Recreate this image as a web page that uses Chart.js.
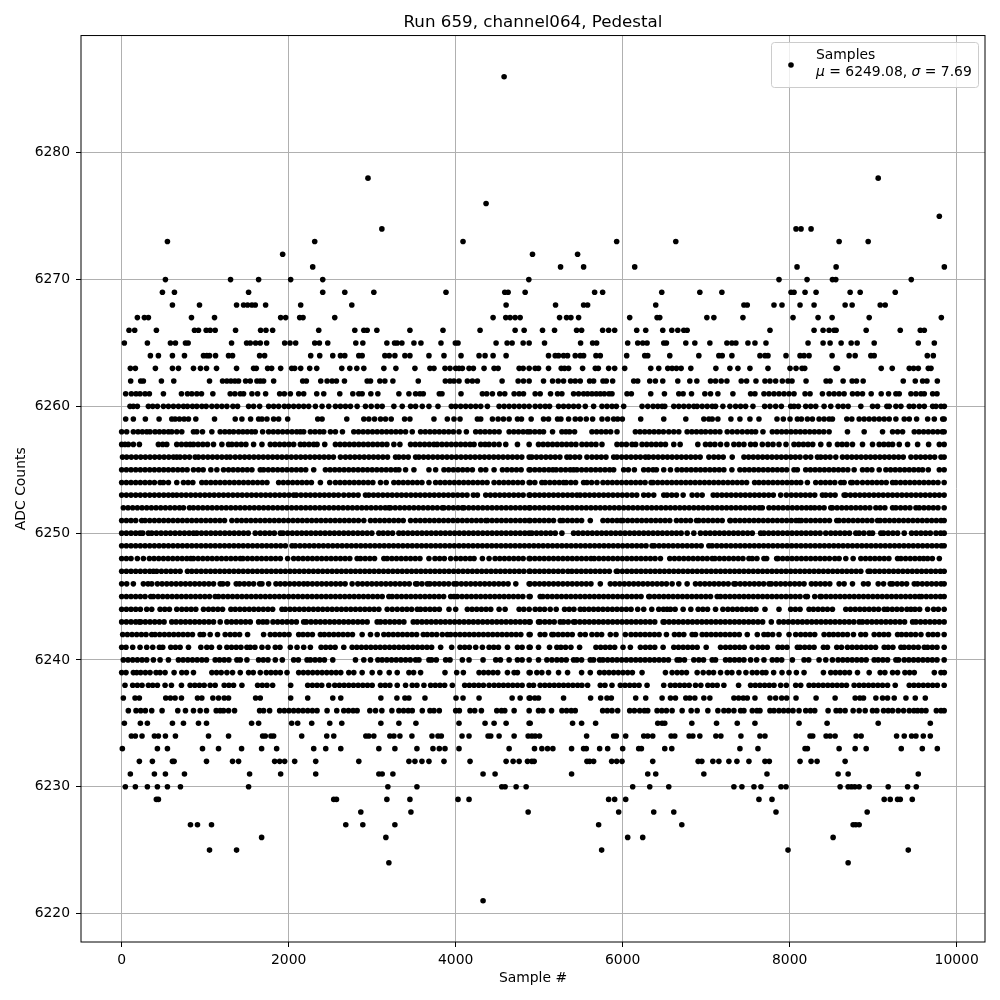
<!DOCTYPE html>
<html>
<head>
<meta charset="utf-8">
<style>html,body{margin:0;padding:0;background:#fff}canvas{display:block}</style>
<script src="https://cdn.jsdelivr.net/npm/chart.js@4"></script>
</head>
<body>
<canvas id="c" width="1000" height="1000"></canvas>
<script>
const xTickValues = [0, 2000, 4000, 6000, 8000, 10000];
const yTickValues = [6220, 6230, 6240, 6250, 6260, 6270, 6280];

// sample numbers, one list per ADC level
const row6286 = [4580];
const row6278 = [2950, 9060];
const row6276 = [4364];
const row6275 = [9792];
const row6274 = [3116, 8076, 8136, 8256];
const row6273 = [548, 2312, 4088, 5928, 6636, 8592, 8940];
const row6272 = [1928, 4920, 5460];
const row6271 = [2288, 5256, 5532, 6144, 8088, 8556, 9852];
const row6270 = [524, 1304, 1640, 2024, 2408, 4876, 7872, 8208, 8512, 8552, 9456];
const row6269 = [488, 632, 1520, 2408, 2672, 3020, 3884, 4588, 4628, 4832, 5664, 5760, 6468, 6924, 7188, 8016, 8052, 8184, 8316, 8724, 8844, 9264];
const row6268 = [608, 932, 1376, 1460, 1508, 1560, 1600, 1724, 2144, 2756, 4604, 5196, 5532, 5580, 6396, 7452, 7492, 7812, 7908, 8124, 8292, 8664, 8748, 9084, 9144];
const row6267 = [188, 272, 320, 836, 1112, 1904, 1964, 2132, 2172, 2552, 4448, 4600, 4652, 4712, 4772, 5244, 5328, 5380, 5472, 6084, 6412, 6444, 7008, 7092, 7440, 8040, 8340, 8508, 8952, 9816];
const row6266 = [88, 156, 416, 872, 920, 1012, 1060, 1120, 1364, 1664, 1728, 1808, 2360, 2792, 2900, 2940, 3056, 3452, 3848, 4292, 4712, 4820, 5040, 5184, 5448, 5508, 5760, 5832, 5904, 6168, 6276, 6480, 6588, 6660, 6732, 6772, 7764, 8292, 8400, 8472, 8532, 8556, 8916, 9324, 9564, 9612];
const row6265 = [32, 308, 584, 644, 764, 796, 1316, 1496, 1540, 1604, 1660, 1736, 1952, 2016, 2084, 2312, 2368, 2468, 2804, 2888, 3176, 3268, 3300, 3356, 3500, 3584, 3824, 3996, 4028, 4484, 4616, 4676, 4808, 4880, 5064, 5496, 5640, 5688, 6060, 6180, 6240, 6292, 6492, 6524, 6756, 6864, 7044, 7248, 7308, 7356, 7500, 7584, 7716, 8220, 8400, 8484, 8616, 8736, 8808, 9012, 9540, 9732];
const row6264 = [344, 440, 608, 752, 980, 1020, 1052, 1124, 1280, 1328, 1652, 1712, 2264, 2372, 2528, 2620, 2672, 2840, 2880, 3152, 3204, 3272, 3392, 3452, 3680, 3860, 4064, 4280, 4352, 4448, 4604, 5112, 5192, 5232, 5292, 5340, 5432, 5492, 5532, 5680, 5732, 6048, 6264, 6300, 6564, 6912, 7152, 7192, 7308, 7644, 7704, 7740, 7956, 8124, 8172, 8232, 8508, 8712, 8784, 8972, 9012, 9648, 9720];
const row6263 = [104, 164, 404, 608, 680, 860, 944, 1016, 1136, 1376, 1580, 1612, 1748, 1796, 1904, 2036, 2072, 2144, 2252, 2336, 2636, 2732, 2816, 2900, 3140, 3284, 3512, 3692, 3740, 3872, 3932, 4000, 4040, 4080, 4160, 4212, 4340, 4460, 4508, 4760, 4808, 4880, 4952, 4992, 5112, 5264, 5304, 5352, 5520, 5672, 5708, 5832, 5904, 6024, 6336, 6432, 6540, 6592, 6644, 6700, 6816, 7116, 7284, 7380, 7524, 7740, 8004, 8076, 8148, 8180, 8556, 8572, 9096, 9228, 9432, 9484, 9540, 9660, 9692];
const row6262 = [108, 228, 260, 476, 624, 1052, 1208, 1260, 1308, 1356, 1400, 1484, 1540, 1620, 1660, 1700, 1820, 2168, 2212, 2384, 2460, 2520, 2572, 2668, 2940, 2980, 3092, 3152, 3248, 3552, 3876, 3932, 3980, 4040, 4140, 4200, 4260, 4556, 4748, 4812, 4880, 5052, 5160, 5228, 5292, 5376, 5432, 5492, 5604, 5652, 5764, 5804, 5880, 6132, 6180, 6324, 6392, 6480, 6660, 6804, 6888, 7052, 7112, 7180, 7248, 7420, 7484, 7596, 7704, 7764, 7832, 7912, 7980, 8028, 8196, 8436, 8484, 8640, 8748, 8800, 8880, 9360, 9504, 9592, 9644, 9768];
const row6261 = [48, 116, 172, 220, 280, 332, 500, 716, 788, 840, 900, 956, 1092, 1300, 1356, 1420, 1460, 1560, 1628, 1724, 1892, 1948, 2020, 2120, 2180, 2336, 2420, 2612, 2768, 2840, 2880, 2984, 3068, 3320, 3440, 3520, 3572, 3612, 3804, 3836, 4064, 4320, 4372, 4440, 4528, 4588, 4700, 4760, 4812, 4952, 5012, 5136, 5220, 5272, 5412, 5472, 5532, 5580, 5632, 5684, 5732, 5780, 5836, 5872, 6052, 6104, 6336, 6500, 6672, 6724, 6824, 6984, 7052, 7140, 7320, 7532, 7584, 7692, 7752, 7812, 7872, 7932, 7992, 8052, 8184, 8244, 8392, 8472, 8532, 8592, 8652, 8752, 8812, 8872, 8976, 9096, 9184, 9272, 9312, 9452, 9512, 9572, 9612, 9712, 9764];
const row6260 = [100, 140, 188, 320, 372, 428, 500, 560, 620, 680, 740, 788, 848, 900, 960, 1012, 1080, 1140, 1200, 1260, 1332, 1388, 1520, 1580, 1652, 1760, 1820, 1880, 1948, 2000, 2060, 2120, 2180, 2240, 2320, 2400, 2480, 2560, 2620, 2680, 2740, 2820, 2920, 2988, 3060, 3120, 3260, 3360, 3460, 3520, 3600, 3680, 3788, 3948, 4000, 4060, 4120, 4180, 4240, 4300, 4380, 4520, 4580, 4640, 4700, 4760, 4820, 4880, 4952, 5012, 5072, 5124, 5232, 5292, 5352, 5412, 5472, 5552, 5652, 5752, 5812, 5872, 5924, 6012, 6232, 6300, 6364, 6420, 6472, 6504, 6612, 6672, 6732, 6792, 6852, 6892, 6952, 7012, 7072, 7112, 7200, 7284, 7352, 7412, 7472, 7560, 7700, 7764, 7832, 7900, 8012, 8052, 8104, 8192, 8252, 8312, 8412, 8492, 8580, 8640, 8700, 8852, 8992, 9052, 9164, 9192, 9272, 9332, 9432, 9484, 9552, 9612, 9712, 9752, 9812, 9852];
const row6259 = [48, 140, 284, 448, 600, 640, 692, 748, 800, 888, 1112, 1360, 1440, 1544, 1640, 1680, 1740, 1820, 1880, 1988, 2348, 2400, 2696, 2900, 2960, 3028, 3100, 3160, 3228, 3388, 3452, 3740, 3900, 3980, 4052, 4260, 4300, 4440, 4508, 4572, 4640, 4740, 4788, 4904, 5052, 5112, 5220, 5260, 5352, 5432, 5492, 5564, 5640, 5752, 5820, 5892, 5940, 5996, 6216, 6492, 6756, 6972, 7032, 7072, 7140, 7296, 7404, 7524, 7632, 7848, 7924, 8004, 8092, 8140, 8212, 8272, 8352, 8412, 8472, 8512, 8684, 8744, 8832, 8892, 8952, 9012, 9072, 9132, 9192, 9272, 9372, 9432, 9520, 9652, 9732, 9832, 9850];
const row6258 = [0, 60, 140, 196, 248, 300, 340, 400, 452, 506, 560, 600, 660, 720, 860, 900, 968, 1080, 1180, 1236, 1290, 1340, 1400, 1452, 1504, 1556, 1600, 1688, 1760, 1816, 1872, 1928, 1984, 2040, 2096, 2140, 2180, 2260, 2316, 2372, 2420, 2500, 2560, 2644, 2780, 2836, 2892, 2948, 3004, 3060, 3116, 3172, 3228, 3284, 3340, 3400, 3480, 3580, 3636, 3692, 3748, 3804, 3860, 3916, 3972, 4040, 4128, 4240, 4296, 4352, 4408, 4464, 4520, 4640, 4696, 4752, 4808, 4860, 4892, 4948, 5004, 5052, 5160, 5272, 5320, 5364, 5424, 5632, 5688, 5744, 5800, 5856, 5932, 6152, 6208, 6264, 6320, 6376, 6432, 6488, 6552, 6612, 6672, 6772, 6828, 6884, 6940, 6992, 7052, 7108, 7164, 7252, 7312, 7372, 7432, 7492, 7544, 7592, 7680, 7792, 7848, 7904, 7960, 8016, 8072, 8128, 8184, 8240, 8296, 8352, 8408, 8472, 8692, 8892, 9112, 9232, 9292, 9352, 9492, 9548, 9604, 9660, 9716, 9772, 9828, 9850];
const row6257 = [0, 40, 80, 140, 212, 440, 492, 540, 660, 716, 772, 820, 860, 916, 972, 1028, 1100, 1200, 1280, 1320, 1376, 1432, 1488, 1580, 1680, 1780, 1836, 1892, 1948, 2004, 2060, 2140, 2188, 2244, 2300, 2340, 2432, 2560, 2616, 2672, 2728, 2784, 2840, 2896, 2952, 3008, 3064, 3120, 3176, 3260, 3332, 3460, 3516, 3572, 3628, 3684, 3740, 3780, 3836, 3892, 3948, 4004, 4060, 4116, 4172, 4220, 4300, 4352, 4400, 4460, 4520, 4600, 4740, 4880, 4992, 5048, 5104, 5160, 5216, 5272, 5328, 5384, 5440, 5512, 5568, 5624, 5680, 5752, 5932, 5988, 6044, 6112, 6156, 6232, 6288, 6344, 6400, 6456, 6512, 6612, 6688, 6900, 6992, 7048, 7104, 7172, 7248, 7332, 7392, 7452, 7532, 7588, 7672, 7740, 7800, 7872, 7956, 8052, 8108, 8164, 8220, 8276, 8372, 8472, 8572, 8628, 8684, 8752, 8872, 8992, 9072, 9128, 9184, 9232, 9312, 9412, 9532, 9664, 9792, 9850];
const row6256 = [10, 60, 116, 172, 228, 284, 340, 396, 452, 508, 564, 620, 660, 700, 756, 812, 880, 920, 976, 1032, 1088, 1144, 1200, 1256, 1300, 1360, 1416, 1472, 1528, 1584, 1640, 1696, 1752, 1808, 1864, 1920, 1976, 2032, 2088, 2144, 2200, 2256, 2312, 2368, 2424, 2480, 2536, 2620, 2680, 2736, 2792, 2848, 2904, 2960, 3016, 3072, 3128, 3184, 3280, 3320, 3376, 3432, 3520, 3560, 3616, 3672, 3728, 3784, 3840, 3896, 3952, 4008, 4064, 4120, 4176, 4232, 4288, 4344, 4400, 4456, 4512, 4568, 4624, 4680, 4736, 4792, 4880, 4912, 4968, 5024, 5080, 5136, 5192, 5248, 5332, 5372, 5428, 5484, 5572, 5632, 5688, 5744, 5800, 5892, 5932, 5988, 6044, 6100, 6156, 6212, 6272, 6312, 6368, 6424, 6480, 6536, 6592, 6648, 6704, 6760, 6816, 6872, 6928, 7032, 7092, 7148, 7204, 7312, 7452, 7508, 7564, 7620, 7676, 7732, 7788, 7844, 7900, 7956, 8012, 8068, 8124, 8192, 8252, 8332, 8372, 8428, 8484, 8552, 8632, 8688, 8744, 8800, 8856, 8912, 8968, 9024, 9080, 9136, 9192, 9248, 9304, 9360, 9452, 9512, 9568, 9624, 9680, 9736, 9812, 9850];
const row6255 = [0, 56, 112, 168, 224, 280, 336, 392, 448, 504, 560, 616, 672, 728, 784, 860, 920, 976, 1068, 1140, 1220, 1280, 1336, 1392, 1448, 1504, 1560, 1660, 1700, 1756, 1812, 1868, 1924, 1980, 2036, 2092, 2148, 2204, 2300, 2440, 2496, 2552, 2608, 2664, 2720, 2776, 2832, 2888, 2944, 3000, 3056, 3112, 3168, 3224, 3280, 3320, 3400, 3500, 3680, 3760, 3860, 3916, 3972, 4028, 4084, 4140, 4200, 4300, 4360, 4460, 4560, 4616, 4672, 4728, 4784, 4880, 4892, 4948, 5004, 5060, 5116, 5164, 5204, 5260, 5316, 5372, 5412, 5452, 5508, 5564, 5620, 5676, 5732, 5788, 5844, 5892, 6012, 6068, 6140, 6252, 6308, 6364, 6404, 6492, 6572, 6652, 6708, 6764, 6820, 6876, 6932, 6988, 7044, 7100, 7156, 7212, 7308, 7404, 7460, 7516, 7572, 7628, 7684, 7740, 7796, 7852, 7908, 7964, 8052, 8092, 8192, 8248, 8304, 8360, 8416, 8472, 8528, 8584, 8640, 8696, 8772, 8872, 8928, 8984, 9072, 9152, 9208, 9264, 9320, 9376, 9432, 9488, 9544, 9592, 9660, 9792, 9850];
const row6254 = [0, 56, 112, 168, 224, 280, 336, 392, 460, 500, 560, 660, 740, 796, 852, 960, 1012, 1068, 1124, 1180, 1236, 1292, 1348, 1404, 1460, 1516, 1572, 1628, 1684, 1740, 1880, 1936, 1992, 2048, 2104, 2160, 2216, 2272, 2380, 2492, 2560, 2616, 2672, 2728, 2784, 2840, 2896, 2952, 3008, 3100, 3168, 3260, 3316, 3372, 3428, 3484, 3540, 3596, 3680, 3760, 3816, 3872, 3928, 3984, 4040, 4096, 4152, 4208, 4264, 4320, 4376, 4460, 4520, 4576, 4632, 4688, 4744, 4800, 4880, 4892, 4948, 5032, 5072, 5128, 5184, 5240, 5292, 5324, 5380, 5436, 5532, 5572, 5628, 5692, 5764, 5820, 5876, 5932, 5988, 6044, 6100, 6156, 6212, 6268, 6340, 6364, 6420, 6476, 6532, 6588, 6644, 6700, 6756, 6812, 6868, 6924, 6980, 7036, 7092, 7148, 7204, 7260, 7316, 7372, 7428, 7484, 7580, 7632, 7688, 7744, 7800, 7856, 7912, 7968, 8024, 8080, 8132, 8212, 8312, 8372, 8428, 8484, 8540, 8612, 8652, 8732, 8752, 8808, 8872, 8932, 8988, 9044, 9100, 9156, 9232, 9272, 9328, 9384, 9440, 9496, 9552, 9608, 9664, 9720, 9776, 9850];
const row6253 = [0, 56, 112, 168, 224, 280, 336, 392, 448, 504, 560, 612, 660, 716, 772, 828, 884, 940, 996, 1052, 1108, 1164, 1220, 1276, 1332, 1388, 1444, 1500, 1556, 1612, 1668, 1724, 1780, 1836, 1892, 1948, 2004, 2060, 2092, 2148, 2204, 2260, 2316, 2372, 2428, 2484, 2540, 2596, 2660, 2720, 2776, 2832, 2920, 2960, 3016, 3072, 3128, 3184, 3240, 3296, 3352, 3408, 3464, 3520, 3576, 3632, 3688, 3744, 3800, 3856, 3912, 3968, 4024, 4080, 4136, 4212, 4260, 4360, 4416, 4472, 4528, 4584, 4640, 4696, 4752, 4808, 4880, 4892, 4948, 5004, 5060, 5116, 5172, 5228, 5284, 5340, 5396, 5452, 5492, 5548, 5604, 5660, 5716, 5772, 5828, 5884, 5940, 5996, 6052, 6112, 6168, 6252, 6308, 6372, 6492, 6532, 6588, 6644, 6724, 6832, 6892, 6952, 7084, 7132, 7188, 7244, 7300, 7356, 7412, 7468, 7524, 7580, 7636, 7692, 7748, 7804, 7892, 7960, 8020, 8076, 8132, 8188, 8244, 8300, 8392, 8432, 8488, 8544, 8652, 8672, 8728, 8784, 8840, 8896, 8952, 9008, 9064, 9120, 9176, 9232, 9288, 9344, 9400, 9456, 9512, 9568, 9624, 9680, 9736, 9792, 9850];
const row6252 = [20, 76, 132, 188, 244, 300, 356, 412, 468, 524, 580, 636, 692, 740, 812, 860, 916, 972, 1028, 1084, 1140, 1196, 1252, 1308, 1364, 1420, 1476, 1532, 1588, 1644, 1700, 1756, 1812, 1868, 1924, 1980, 2036, 2092, 2148, 2204, 2260, 2316, 2372, 2428, 2484, 2540, 2596, 2652, 2708, 2764, 2820, 2876, 2932, 2988, 3044, 3100, 3156, 3200, 3220, 3276, 3332, 3388, 3444, 3500, 3556, 3612, 3668, 3724, 3780, 3840, 3860, 3916, 3972, 4028, 4080, 4100, 4156, 4212, 4268, 4324, 4380, 4436, 4492, 4548, 4604, 4660, 4716, 4772, 4828, 4880, 4892, 4948, 5004, 5060, 5116, 5172, 5228, 5284, 5340, 5396, 5452, 5508, 5564, 5620, 5676, 5732, 5788, 5844, 5900, 5956, 6012, 6068, 6124, 6180, 6236, 6292, 6348, 6404, 6460, 6516, 6572, 6628, 6684, 6740, 6796, 6852, 6908, 6964, 7020, 7076, 7132, 7188, 7244, 7300, 7356, 7412, 7468, 7524, 7580, 7636, 7672, 7752, 7808, 7864, 7920, 7976, 8032, 8088, 8144, 8200, 8252, 8300, 8356, 8412, 8492, 8512, 8568, 8624, 8680, 8736, 8792, 8848, 8904, 8960, 9032, 9084, 9140, 9232, 9272, 9328, 9384, 9440, 9512, 9552, 9608, 9664, 9720, 9776, 9850];
const row6251 = [0, 56, 112, 168, 240, 280, 336, 392, 448, 504, 560, 616, 672, 728, 784, 840, 896, 952, 1008, 1064, 1120, 1176, 1232, 1320, 1380, 1436, 1492, 1548, 1604, 1660, 1716, 1772, 1828, 1884, 1940, 1996, 2052, 2108, 2164, 2220, 2276, 2332, 2388, 2444, 2500, 2556, 2612, 2668, 2724, 2780, 2836, 2900, 2980, 3036, 3092, 3148, 3204, 3260, 3316, 3372, 3460, 3520, 3576, 3632, 3688, 3744, 3800, 3856, 3912, 3968, 4024, 4080, 4136, 4192, 4248, 4304, 4360, 4380, 4436, 4492, 4548, 4604, 4660, 4716, 4772, 4828, 4880, 4892, 4948, 5004, 5060, 5116, 5172, 5252, 5284, 5340, 5396, 5452, 5508, 5612, 5764, 5820, 5876, 5932, 5980, 6004, 6060, 6116, 6172, 6228, 6284, 6340, 6396, 6452, 6508, 6564, 6644, 6700, 6756, 6812, 6884, 6912, 6968, 7024, 7080, 7136, 7192, 7284, 7292, 7348, 7404, 7460, 7516, 7572, 7628, 7684, 7740, 7796, 7852, 7908, 7964, 8020, 8076, 8112, 8140, 8196, 8252, 8308, 8364, 8420, 8476, 8564, 8592, 8648, 8704, 8760, 8816, 8872, 8928, 8984, 9052, 9084, 9140, 9196, 9252, 9308, 9364, 9420, 9476, 9532, 9588, 9644, 9700, 9756, 9812, 9850];
const row6250 = [0, 56, 112, 168, 220, 252, 320, 360, 416, 472, 528, 584, 640, 696, 752, 808, 860, 900, 956, 1012, 1068, 1124, 1180, 1236, 1292, 1348, 1404, 1460, 1516, 1600, 1660, 1716, 1772, 1828, 1900, 1932, 1988, 2044, 2100, 2156, 2212, 2268, 2324, 2380, 2436, 2492, 2548, 2604, 2660, 2716, 2772, 2828, 2884, 2940, 2996, 3080, 3132, 3188, 3244, 3320, 3372, 3428, 3484, 3540, 3596, 3652, 3708, 3764, 3820, 3876, 3932, 3988, 4044, 4100, 4156, 4212, 4268, 4324, 4380, 4436, 4492, 4548, 4604, 4660, 4716, 4772, 4828, 4880, 4912, 4968, 5024, 5080, 5136, 5192, 5272, 5412, 5468, 5524, 5580, 5636, 5692, 5748, 5804, 5860, 5916, 5972, 6028, 6084, 6140, 6196, 6252, 6308, 6364, 6420, 6476, 6532, 6588, 6644, 6700, 6772, 6852, 6932, 6992, 7048, 7104, 7160, 7216, 7272, 7328, 7384, 7440, 7496, 7552, 7652, 7692, 7748, 7804, 7860, 7916, 7972, 8028, 8084, 8140, 8196, 8252, 8308, 8364, 8432, 8492, 8548, 8604, 8660, 8716, 8792, 8832, 8888, 8952, 8992, 9092, 9124, 9180, 9236, 9292, 9372, 9460, 9516, 9572, 9628, 9684, 9752, 9808, 9850];
const row6249 = [0, 56, 112, 168, 224, 280, 336, 392, 448, 504, 560, 616, 672, 728, 784, 840, 896, 952, 1008, 1064, 1120, 1176, 1232, 1288, 1344, 1400, 1456, 1512, 1568, 1624, 1680, 1736, 1792, 1848, 1904, 1960, 2040, 2080, 2136, 2192, 2248, 2304, 2360, 2416, 2472, 2528, 2584, 2640, 2696, 2752, 2808, 2864, 2920, 2976, 3032, 3088, 3144, 3200, 3256, 3312, 3368, 3424, 3480, 3536, 3592, 3648, 3704, 3760, 3816, 3872, 3928, 3984, 4040, 4096, 4152, 4208, 4264, 4320, 4376, 4432, 4488, 4544, 4600, 4656, 4712, 4768, 4824, 4880, 4936, 4992, 5048, 5104, 5160, 5216, 5272, 5328, 5384, 5440, 5496, 5552, 5608, 5664, 5720, 5776, 5832, 5888, 5944, 6000, 6056, 6112, 6168, 6224, 6280, 6352, 6380, 6436, 6492, 6548, 6604, 6660, 6716, 6772, 6828, 6884, 6940, 7032, 7072, 7128, 7184, 7240, 7296, 7352, 7408, 7464, 7520, 7576, 7632, 7688, 7744, 7800, 7856, 7912, 7968, 8024, 8080, 8136, 8192, 8248, 8304, 8360, 8416, 8472, 8528, 8584, 8640, 8696, 8752, 8808, 8864, 8920, 8976, 9032, 9088, 9144, 9200, 9256, 9312, 9368, 9424, 9480, 9536, 9592, 9648, 9704, 9760, 9816, 9850];
const row6248 = [0, 56, 112, 188, 260, 332, 388, 444, 500, 556, 612, 668, 724, 780, 828, 860, 916, 972, 1028, 1084, 1140, 1196, 1252, 1308, 1364, 1420, 1452, 1508, 1564, 1620, 1676, 1732, 1788, 1844, 1900, 1988, 2060, 2116, 2172, 2228, 2284, 2340, 2396, 2452, 2508, 2564, 2620, 2676, 2732, 2820, 2860, 2916, 2972, 3028, 3140, 3180, 3236, 3292, 3348, 3404, 3460, 3516, 3572, 3680, 3752, 3808, 3864, 3940, 4004, 4060, 4116, 4172, 4220, 4320, 4400, 4472, 4528, 4584, 4640, 4696, 4752, 4808, 4880, 4892, 4948, 5004, 5060, 5116, 5172, 5228, 5284, 5340, 5396, 5452, 5508, 5564, 5620, 5660, 5716, 5772, 5828, 5884, 5940, 5996, 6052, 6108, 6164, 6220, 6276, 6332, 6388, 6452, 6564, 6620, 6676, 6732, 6788, 6844, 6900, 6956, 7012, 7072, 7104, 7160, 7216, 7272, 7328, 7384, 7440, 7512, 7552, 7608, 7692, 7724, 7844, 7860, 7916, 7972, 8028, 8084, 8140, 8196, 8252, 8308, 8364, 8420, 8476, 8540, 8592, 8672, 8760, 8852, 8908, 8964, 9020, 9076, 9132, 9188, 9292, 9332, 9388, 9444, 9500, 9556, 9604, 9652, 9708, 9792];
const row6247 = [0, 56, 112, 168, 224, 280, 336, 380, 420, 476, 532, 588, 644, 700, 788, 840, 896, 952, 1008, 1064, 1120, 1176, 1232, 1288, 1344, 1400, 1456, 1512, 1568, 1624, 1680, 1736, 1792, 1848, 1904, 1960, 2016, 2072, 2128, 2184, 2240, 2296, 2352, 2408, 2464, 2520, 2576, 2632, 2688, 2744, 2800, 2856, 2912, 2968, 3024, 3080, 3136, 3192, 3248, 3304, 3360, 3416, 3472, 3528, 3584, 3640, 3696, 3752, 3808, 3864, 3920, 3976, 4032, 4088, 4144, 4200, 4256, 4312, 4368, 4424, 4480, 4536, 4592, 4648, 4704, 4760, 4816, 4880, 4892, 4948, 5004, 5060, 5116, 5172, 5228, 5284, 5344, 5392, 5448, 5504, 5560, 5616, 5672, 5728, 5784, 5840, 5924, 5940, 5996, 6052, 6108, 6164, 6220, 6276, 6332, 6388, 6444, 6500, 6556, 6612, 6668, 6724, 6780, 6836, 6892, 6948, 7004, 7060, 7116, 7172, 7228, 7284, 7340, 7396, 7452, 7508, 7564, 7620, 7676, 7732, 7788, 7844, 7900, 7956, 8012, 8068, 8124, 8180, 8236, 8292, 8348, 8404, 8460, 8516, 8572, 8628, 8684, 8740, 8796, 8852, 8940, 8964, 9020, 9076, 9132, 9188, 9244, 9300, 9356, 9412, 9468, 9524, 9580, 9636, 9692, 9748, 9804, 9850];
const row6246 = [0, 60, 140, 260, 316, 360, 428, 484, 540, 596, 652, 708, 764, 820, 876, 932, 988, 1044, 1100, 1180, 1212, 1268, 1372, 1412, 1468, 1524, 1580, 1652, 1680, 1760, 1848, 1900, 1956, 2012, 2068, 2124, 2180, 2228, 2284, 2340, 2396, 2452, 2508, 2564, 2620, 2676, 2760, 2828, 2884, 2940, 2996, 3052, 3108, 3164, 3220, 3276, 3332, 3388, 3444, 3520, 3540, 3596, 3660, 3692, 3748, 3804, 3860, 3916, 3980, 4012, 4068, 4124, 4180, 4236, 4292, 4348, 4404, 4460, 4516, 4572, 4628, 4720, 4880, 4892, 4948, 5004, 5060, 5116, 5172, 5228, 5284, 5340, 5396, 5452, 5508, 5564, 5620, 5732, 5852, 5908, 5964, 6020, 6076, 6132, 6188, 6244, 6300, 6356, 6412, 6468, 6524, 6592, 6672, 6772, 6872, 6928, 6984, 7040, 7096, 7152, 7208, 7264, 7332, 7352, 7408, 7464, 7520, 7576, 7632, 7688, 7752, 7780, 7836, 7892, 7948, 8004, 8060, 8116, 8172, 8260, 8312, 8368, 8424, 8480, 8592, 8652, 8752, 8884, 8940, 9060, 9124, 9204, 9232, 9288, 9344, 9400, 9492, 9532, 9588, 9644, 9700, 9756, 9812, 9850];
const row6245 = [0, 56, 112, 168, 224, 280, 348, 380, 436, 492, 548, 604, 660, 716, 772, 828, 884, 940, 996, 1052, 1120, 1160, 1216, 1272, 1328, 1384, 1440, 1496, 1552, 1608, 1664, 1720, 1776, 1832, 1888, 1944, 2000, 2056, 2112, 2168, 2224, 2280, 2336, 2392, 2448, 2504, 2560, 2616, 2672, 2728, 2784, 2840, 2896, 2952, 3008, 3064, 3120, 3200, 3240, 3296, 3352, 3408, 3464, 3520, 3576, 3632, 3688, 3744, 3800, 3856, 3940, 3980, 4020, 4076, 4132, 4188, 4244, 4300, 4356, 4412, 4468, 4524, 4580, 4636, 4692, 4748, 4804, 4880, 4892, 5012, 5044, 5100, 5156, 5212, 5268, 5324, 5380, 5436, 5492, 5548, 5604, 5660, 5716, 5772, 5828, 5884, 5940, 5996, 6052, 6108, 6164, 6220, 6312, 6324, 6380, 6436, 6492, 6548, 6604, 6660, 6716, 6772, 6828, 6884, 6940, 6996, 7052, 7132, 7172, 7228, 7284, 7340, 7396, 7452, 7508, 7564, 7620, 7676, 7732, 7788, 7844, 7900, 7956, 8012, 8068, 8124, 8192, 8212, 8300, 8364, 8380, 8436, 8492, 8548, 8604, 8660, 8716, 8772, 8828, 8884, 8940, 8996, 9052, 9108, 9164, 9220, 9276, 9332, 9388, 9444, 9500, 9552, 9580, 9636, 9692, 9748, 9804, 9850];
const row6244 = [0, 56, 112, 168, 224, 300, 360, 460, 516, 572, 660, 720, 776, 832, 888, 980, 1040, 1096, 1152, 1208, 1308, 1360, 1416, 1472, 1528, 1584, 1640, 1696, 1752, 1808, 1920, 1960, 2016, 2072, 2128, 2184, 2240, 2296, 2352, 2408, 2464, 2520, 2576, 2632, 2688, 2744, 2800, 2856, 2912, 2968, 3024, 3080, 3180, 3240, 3300, 3360, 3416, 3472, 3540, 3580, 3636, 3692, 3748, 3804, 3920, 4000, 4140, 4196, 4252, 4308, 4364, 4420, 4520, 4592, 4760, 4816, 4880, 4952, 5008, 5064, 5132, 5204, 5304, 5360, 5416, 5492, 5540, 5596, 5652, 5708, 5764, 5820, 5876, 5932, 5988, 6044, 6100, 6180, 6252, 6348, 6432, 6488, 6532, 6572, 6628, 6724, 6816, 6904, 6960, 7016, 7112, 7200, 7260, 7316, 7372, 7428, 7484, 7540, 7596, 7704, 7872, 8012, 8068, 8124, 8232, 8284, 8340, 8396, 8452, 8512, 8672, 8728, 8784, 8840, 8896, 8952, 9008, 9064, 9132, 9172, 9228, 9284, 9340, 9404, 9452, 9500, 9556, 9652, 9724, 9780, 9850];
const row6243 = [0, 56, 112, 168, 212, 228, 284, 340, 396, 452, 508, 600, 652, 708, 764, 820, 876, 932, 988, 1044, 1100, 1180, 1260, 1316, 1372, 1428, 1484, 1540, 1640, 1692, 1740, 1812, 1868, 1924, 1980, 2036, 2092, 2180, 2212, 2268, 2324, 2380, 2436, 2492, 2548, 2604, 2660, 2716, 2772, 2828, 2884, 2940, 3060, 3100, 3156, 3212, 3268, 3324, 3380, 3492, 3540, 3596, 3652, 3708, 3764, 3820, 3876, 3932, 3988, 4044, 4100, 4156, 4212, 4268, 4324, 4380, 4436, 4492, 4548, 4604, 4660, 4716, 4772, 4828, 4880, 4892, 4992, 5012, 5068, 5124, 5180, 5252, 5292, 5348, 5412, 5432, 5488, 5544, 5600, 5656, 5712, 5768, 5824, 5880, 5936, 5992, 6048, 6104, 6160, 6216, 6272, 6328, 6384, 6484, 6500, 6556, 6612, 6668, 6724, 6780, 6836, 6892, 6948, 7004, 7060, 7116, 7172, 7228, 7284, 7340, 7396, 7452, 7508, 7564, 7620, 7676, 7780, 7872, 7928, 7984, 8040, 8096, 8152, 8208, 8264, 8320, 8376, 8432, 8488, 8544, 8600, 8656, 8712, 8768, 8832, 8872, 8928, 8984, 9040, 9096, 9152, 9208, 9264, 9320, 9376, 9472, 9512, 9568, 9624, 9680, 9736, 9792, 9850];
const row6242 = [12, 68, 124, 180, 236, 292, 360, 400, 456, 512, 568, 624, 680, 736, 792, 848, 940, 980, 1060, 1148, 1240, 1300, 1356, 1412, 1508, 1700, 1780, 1836, 1892, 1948, 2004, 2120, 2172, 2228, 2284, 2380, 2428, 2484, 2540, 2596, 2652, 2708, 2764, 2880, 2980, 3060, 3140, 3196, 3252, 3308, 3364, 3420, 3476, 3532, 3612, 3660, 3716, 3772, 3840, 3900, 3940, 3996, 4052, 4108, 4164, 4220, 4276, 4332, 4388, 4444, 4500, 4556, 4612, 4668, 4724, 4780, 4880, 4892, 5012, 5068, 5152, 5172, 5228, 5284, 5340, 5396, 5492, 5552, 5632, 5692, 5748, 5852, 5920, 6032, 6100, 6156, 6212, 6268, 6324, 6380, 6436, 6524, 6620, 6676, 6732, 6832, 6872, 6952, 7004, 7060, 7116, 7172, 7228, 7284, 7340, 7396, 7492, 7612, 7692, 7740, 7796, 7872, 7992, 8072, 8132, 8188, 8244, 8300, 8412, 8472, 8524, 8580, 8636, 8692, 8764, 8852, 8908, 9012, 9072, 9128, 9184, 9292, 9340, 9396, 9452, 9508, 9572, 9660, 9716, 9772, 9850];
const row6241 = [0, 52, 132, 220, 300, 372, 452, 492, 588, 644, 700, 800, 948, 1020, 1076, 1172, 1260, 1316, 1372, 1428, 1500, 1540, 1596, 1680, 1752, 1840, 1896, 2020, 2100, 2180, 2260, 2388, 2444, 2500, 2556, 2660, 2760, 2816, 2872, 2928, 2984, 3040, 3096, 3152, 3208, 3264, 3320, 3376, 3432, 3488, 3544, 3600, 3656, 3712, 3820, 3952, 4052, 4108, 4164, 4240, 4320, 4400, 4456, 4512, 4620, 4740, 4796, 4880, 4892, 4992, 5124, 5212, 5260, 5316, 5380, 5484, 5680, 5736, 5792, 5848, 5904, 6004, 6092, 6212, 6272, 6328, 6384, 6484, 6612, 6668, 6724, 6780, 6836, 6892, 7000, 7172, 7232, 7288, 7344, 7400, 7456, 7552, 7620, 7676, 7732, 7860, 7912, 7968, 8092, 8124, 8180, 8236, 8292, 8404, 8452, 8564, 8620, 8692, 8748, 8804, 8860, 8916, 8972, 9028, 9132, 9180, 9236, 9332, 9372, 9428, 9484, 9540, 9612, 9652, 9708, 9764, 9850];
const row6240 = [20, 76, 132, 188, 244, 300, 380, 460, 560, 680, 736, 792, 848, 904, 960, 1016, 1120, 1172, 1228, 1284, 1380, 1420, 1500, 1640, 1696, 1752, 1840, 1924, 2060, 2116, 2220, 2260, 2316, 2372, 2428, 2528, 2800, 2900, 2980, 3068, 3120, 3176, 3232, 3288, 3344, 3400, 3456, 3520, 3560, 3680, 3712, 3768, 3880, 3932, 4080, 4160, 4328, 4480, 4536, 4640, 4740, 4796, 4880, 4992, 5092, 5152, 5212, 5268, 5324, 5412, 5452, 5508, 5612, 5652, 5724, 5764, 5820, 5876, 5932, 5988, 6044, 6100, 6156, 6212, 6268, 6324, 6380, 6436, 6492, 6548, 6652, 6684, 6740, 6852, 6912, 6968, 7072, 7112, 7232, 7284, 7340, 7396, 7452, 7532, 7604, 7692, 7792, 7848, 7904, 8032, 8172, 8228, 8352, 8432, 8512, 8580, 8636, 8692, 8748, 8804, 8860, 8916, 9012, 9060, 9116, 9172, 9272, 9304, 9372, 9428, 9484, 9540, 9596, 9652, 9708, 9764, 9850];
const row6239 = [0, 52, 140, 180, 228, 284, 340, 412, 460, 520, 628, 720, 776, 860, 1080, 1136, 1192, 1260, 1328, 1420, 1520, 1576, 1660, 1732, 1788, 1844, 1900, 1980, 2120, 2176, 2232, 2288, 2344, 2400, 2456, 2512, 2568, 2624, 2720, 2780, 2880, 3000, 3092, 3204, 3300, 3440, 3496, 3580, 3872, 4012, 4092, 4280, 4336, 4392, 4448, 4504, 4620, 4700, 4740, 4880, 4892, 4972, 5032, 5112, 5232, 5340, 5508, 5612, 5724, 5780, 5836, 5892, 5948, 6004, 6060, 6116, 6232, 6512, 6592, 6652, 6708, 6764, 6892, 6964, 7032, 7088, 7172, 7252, 7308, 7392, 7476, 7552, 7608, 7672, 7716, 7808, 7908, 7992, 8080, 8172, 8404, 8492, 8548, 8604, 8660, 8716, 8812, 8952, 9084, 9140, 9232, 9292, 9380, 9436, 9492, 9732, 9812, 9852];
const row6238 = [40, 132, 188, 244, 320, 372, 428, 520, 596, 716, 820, 876, 932, 988, 1060, 1120, 1228, 1284, 1340, 1440, 1628, 1684, 1740, 1808, 2024, 2228, 2284, 2340, 2396, 2480, 2552, 2608, 2664, 2720, 2776, 2832, 2888, 2944, 3000, 3100, 3156, 3212, 3300, 3400, 3480, 3536, 3620, 3700, 3756, 3812, 3868, 3960, 4108, 4164, 4220, 4276, 4332, 4400, 4460, 4516, 4572, 4628, 4684, 4740, 4796, 4880, 4932, 5012, 5068, 5124, 5180, 5236, 5292, 5348, 5404, 5460, 5512, 5580, 5732, 5788, 5872, 5972, 6028, 6084, 6140, 6196, 6292, 6492, 6572, 6628, 6684, 6740, 6796, 6872, 6936, 7020, 7076, 7132, 7212, 7388, 7532, 7588, 7644, 7700, 7756, 7812, 7892, 7960, 8072, 8132, 8232, 8288, 8344, 8400, 8456, 8512, 8568, 8624, 8680, 8772, 8832, 8888, 8944, 9000, 9056, 9112, 9172, 9264, 9432, 9488, 9544, 9600, 9656, 9712, 9768, 9850];
const row6237 = [20, 160, 212, 528, 584, 640, 716, 908, 960, 1092, 1160, 1228, 1280, 1604, 1660, 2024, 2228, 2528, 2624, 3104, 3296, 3392, 3440, 3632, 4004, 4088, 4280, 4676, 4772, 4880, 4892, 4948, 4992, 5292, 5616, 5736, 5812, 5864, 6156, 6276, 6472, 6572, 6632, 6756, 6804, 6864, 6972, 7044, 7332, 7388, 7444, 7492, 7584, 7764, 7832, 7904, 7964, 8076, 8316, 8544, 8784, 8840, 8884, 9032, 9112, 9172, 9252, 9392, 9504, 9624];
const row6236 = [80, 172, 228, 284, 360, 484, 672, 764, 860, 940, 1016, 1132, 1180, 1220, 1280, 1352, 1652, 1700, 1772, 1892, 1948, 2004, 2060, 2116, 2172, 2228, 2284, 2340, 2460, 2576, 2660, 2716, 2772, 2820, 2972, 3040, 3116, 3236, 3320, 3376, 3432, 3480, 3600, 3692, 3740, 3804, 4000, 4044, 4172, 4228, 4308, 4492, 4548, 4588, 4700, 4880, 4992, 5044, 5148, 5272, 5328, 5384, 5432, 5760, 5816, 5872, 5940, 6084, 6140, 6204, 6260, 6300, 6412, 6468, 6524, 6592, 6712, 6820, 6892, 7020, 7140, 7212, 7268, 7332, 7412, 7452, 7552, 7608, 7644, 7764, 7812, 7872, 7928, 7984, 8040, 8112, 8192, 8248, 8300, 8460, 8556, 8604, 8664, 8760, 8832, 8904, 8992, 9044, 9124, 9180, 9232, 9300, 9364, 9432, 9488, 9532, 9580, 9632, 9756, 9812, 9850];
const row6235 = [32, 224, 308, 608, 740, 920, 1016, 1556, 1640, 2036, 2108, 2276, 2492, 2636, 3104, 3320, 3524, 4040, 4352, 4460, 4604, 4880, 4892, 5400, 5508, 5676, 6420, 6472, 6504, 6828, 7124, 7372, 7584, 8112, 8448, 9060, 9684];
const row6234 = [116, 164, 244, 392, 440, 524, 644, 1040, 1280, 1688, 1720, 1788, 1820, 2156, 2456, 2540, 2924, 2960, 3020, 3212, 3260, 3332, 3476, 3716, 3788, 3828, 4076, 4160, 4388, 4420, 4520, 4700, 4868, 4912, 4952, 5004, 5568, 5892, 5924, 6036, 6252, 6300, 6360, 6580, 6624, 6796, 6840, 6924, 7116, 7176, 7416, 7644, 7704, 8244, 8276, 8436, 8484, 8544, 8796, 8856, 9280, 9372, 9460, 9512, 9600, 9684];
const row6233 = [8, 428, 548, 968, 1160, 1436, 1676, 1856, 2300, 2444, 2624, 3080, 3272, 3536, 3728, 3804, 3872, 4040, 4640, 4944, 5032, 5100, 5164, 5388, 5532, 5564, 5724, 5820, 6000, 6192, 6224, 6504, 6588, 7404, 7620, 8184, 8212, 8592, 8784, 8916, 9336, 9588, 9768];
const row6232 = [212, 368, 608, 628, 1016, 1328, 1400, 1832, 1892, 1952, 2072, 2324, 2840, 3440, 3512, 3596, 3680, 3860, 4172, 4604, 4688, 4760, 4860, 4912, 4940, 5572, 5604, 5652, 5868, 5928, 5992, 6360, 6904, 6948, 7080, 7152, 7272, 7368, 7512, 7704, 7756, 8124, 8256, 8328, 8664];
const row6231 = [104, 392, 524, 752, 1532, 1904, 2324, 3080, 3120, 3248, 4328, 4472, 5388, 6300, 6396, 6972, 7728, 8580, 8700, 9540];
const row6230 = [44, 164, 308, 428, 548, 704, 1520, 3188, 3536, 4552, 4592, 4724, 4844, 6120, 6324, 6552, 7332, 7428, 7572, 7656, 7896, 7956, 8604, 8700, 8740, 8780, 8832, 8952, 9180, 9412, 9516];
const row6229 = [416, 440, 2540, 2572, 3176, 3452, 4028, 4160, 5832, 5904, 6036, 7632, 7788, 9132, 9204, 9292, 9324, 9468];
const row6228 = [2864, 3464, 4868, 5952, 6372, 6612, 7836, 8928];
const row6227 = [824, 908, 1076, 2684, 2888, 3272, 5712, 6708, 8760, 8792, 8832];
const row6226 = [1676, 3164, 6060, 6240, 8520];
const row6225 = [1052, 1376, 5748, 7980, 9420];
const row6224 = [3200, 8700];
const row6221 = [4328];

const levels = [6286, 6278, 6276, 6275, 6274, 6273, 6272, 6271, 6270, 6269, 6268, 6267, 6266, 6265, 6264, 6263, 6262, 6261, 6260, 6259, 6258, 6257, 6256, 6255, 6254, 6253, 6252, 6251, 6250, 6249, 6248, 6247, 6246, 6245, 6244, 6243, 6242, 6241, 6240, 6239, 6238, 6237, 6236, 6235, 6234, 6233, 6232, 6231, 6230, 6229, 6228, 6227, 6226, 6225, 6224, 6221];
const rows = [row6286, row6278, row6276, row6275, row6274, row6273, row6272, row6271, row6270, row6269, row6268, row6267, row6266, row6265, row6264, row6263, row6262, row6261, row6260, row6259, row6258, row6257, row6256, row6255, row6254, row6253, row6252, row6251, row6250, row6249, row6248, row6247, row6246, row6245, row6244, row6243, row6242, row6241, row6240, row6239, row6238, row6237, row6236, row6235, row6234, row6233, row6232, row6231, row6230, row6229, row6228, row6227, row6226, row6225, row6224, row6221];

const points = [];
rows.forEach((r, i) => r.forEach(x => points.push({ x: x, y: levels[i] })));

const FONT = '"DejaVu Sans"';

// black frame + matplotlib style legend box
const framePlugin = {
  id: "frame",
  afterDraw(chart) {
    const c = chart.ctx, a = chart.chartArea;
    c.save();
    c.strokeStyle = "#000";
    c.lineWidth = 1;
    c.strokeRect(a.left, a.top, a.right - a.left, a.bottom - a.top);

    c.fillStyle = "rgba(255,255,255,0.8)";
    c.strokeStyle = "#ccc";
    c.beginPath();
    c.roundRect(771.5, 42.5, 207, 45, 3);
    c.fill();
    c.stroke();

    c.fillStyle = "#000";
    c.beginPath();
    c.arc(791, 65, 2.8, 0, Math.PI * 2);
    c.fill();

    c.textAlign = "left";
    c.textBaseline = "alphabetic";
    c.font = "13.9px " + FONT;
    c.fillText("Samples", 816, 59);
    let x = 816;
    const parts = [["μ", true], [" = 6249.08, ", false], ["σ", true], [" = 7.69", false]];
    parts.forEach(p => {
      c.font = (p[1] ? "italic " : "") + "13.9px " + FONT;
      c.fillText(p[0], x, 76);
      x += c.measureText(p[0]).width;
    });
    c.restore();
  }
};

new Chart(document.getElementById("c").getContext("2d"), {
  type: "scatter",
  data: {
    datasets: [{
      label: "Samples",
      data: points,
      backgroundColor: "#000",
      borderColor: "#000",
      pointRadius: 2.8,
      pointBorderWidth: 0
    }]
  },
  options: {
    responsive: false,
    animation: false,
    layout: { padding: { left: 0, right: 15, top: 0, bottom: 0 } },
    plugins: {
      legend: { display: false },
      tooltip: { enabled: false },
      title: {
        display: true,
        fullSize: false,
        text: "Run 659, channel064, Pedestal",
        color: "#000",
        font: { family: FONT, size: 16.7, weight: "normal", lineHeight: 1.2 },
        padding: { top: 13, bottom: 2.5 }
      }
    },
    scales: {
      x: {
        type: "linear",
        min: -487,
        max: 10339,
        afterFit(s) { s.height = 58; },
        afterBuildTicks(s) { s.ticks = xTickValues.map(v => ({ value: v })); },
        grid: { color: "#b0b0b0", lineWidth: 1, tickLength: 5, tickColor: "#000", drawTicks: true },
        border: { display: false },
        ticks: { autoSkip: false, maxRotation: 0, color: "#000", padding: 5, font: { family: FONT, size: 13.9 }, callback: v => String(v) },
        title: { display: true, text: "Sample #", color: "#000", font: { family: FONT, size: 13.9 }, padding: { top: 3, bottom: 13 } }
      },
      y: {
        type: "linear",
        min: 6217.75,
        max: 6289.25,
        afterFit(s) { s.width = 81; },
        afterBuildTicks(s) { s.ticks = yTickValues.map(v => ({ value: v })); },
        grid: { color: "#b0b0b0", lineWidth: 1, tickLength: 5, tickColor: "#000", drawTicks: true },
        border: { display: false },
        ticks: { autoSkip: false, color: "#000", padding: 6, font: { family: FONT, size: 13.9 }, callback: v => String(v) },
        title: { display: true, text: "ADC Counts", color: "#000", font: { family: FONT, size: 13.9 }, padding: { top: 13, bottom: 3 } }
      }
    }
  },
  plugins: [framePlugin]
});
</script>
</body>
</html>
